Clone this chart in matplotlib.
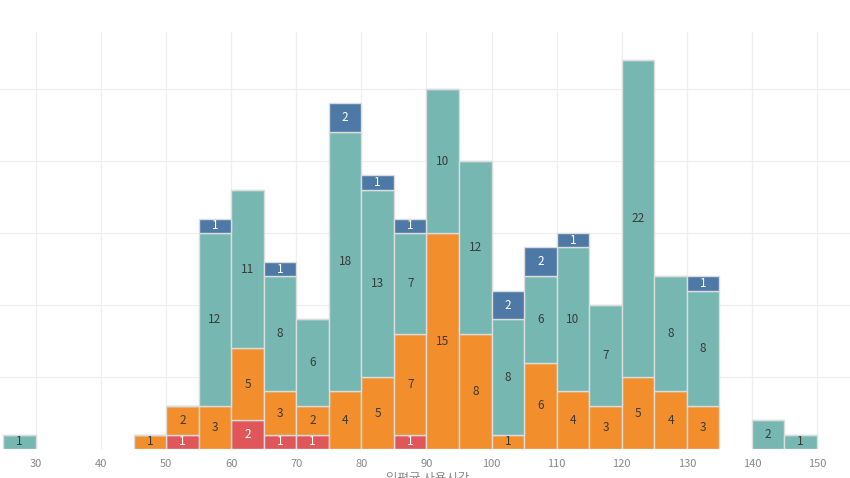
import matplotlib
matplotlib.use("Agg")
import matplotlib.pyplot as plt
import numpy as np

plt.rcParams['font.family'] = ['Noto Sans CJK KR', 'DejaVu Sans']

bin_starts = [25, 45, 50, 55, 60, 65, 70, 75, 80, 85, 90, 95, 100, 105, 110, 115, 120, 125, 130, 140, 145]
red    = [0, 0, 1, 0, 2, 1, 1, 0, 0, 1, 0, 0, 0, 0, 0, 0, 0, 0, 0, 0, 0]
orange = [0, 1, 2, 3, 5, 3, 2, 4, 5, 7, 15, 8, 1, 6, 4, 3, 5, 4, 3, 0, 0]
teal   = [1, 0, 0, 12, 11, 8, 6, 18, 13, 7, 10, 12, 8, 6, 10, 7, 22, 8, 8, 2, 1]
blue   = [0, 0, 0, 1, 0, 1, 0, 2, 1, 1, 0, 0, 2, 2, 1, 0, 0, 0, 1, 0, 0]
bin_width = 5
xticks = [30, 40, 50, 60, 70, 80, 90, 100, 110, 120, 130, 140, 150]
xlabel = "일평균 사용시간"

series = [
    (red, "#E15759", "white"),
    (orange, "#F28E2B", "#3a3a3a"),
    (teal, "#76B7B2", "#3a3a3a"),
    (blue, "#4E79A7", "white"),
]

fig = plt.figure(figsize=(8.5, 4.78), dpi=100)
ax = fig.add_axes([0, 1 - 449/478, 1, (449 - 32)/478])

bottom = np.zeros(len(bin_starts))
lefts = np.array(bin_starts, dtype=float)
for vals, color, tcolor in series:
    v = np.array(vals, dtype=float)
    ax.bar(lefts, v, width=bin_width, bottom=bottom, align='edge', color=color,
           edgecolor='#dcdcdc', linewidth=1.0, zorder=3)
    for x, b, h in zip(lefts, bottom, v):
        if h > 0:
            ax.text(x + bin_width/2, b + h/2, f"{int(h)}", ha='center', va='center',
                    fontsize=8.5, color=tcolor, zorder=4)
    bottom += v

ax.set_xlim(24.47, 155.07)
ax.set_ylim(0, 28.96)
ax.set_xticks(xticks)
ax.set_xticklabels([str(t) for t in xticks])
ax.set_yticks([5, 10, 15, 20, 25])
ax.set_yticklabels([])
ax.tick_params(axis='both', length=0, labelsize=8, labelcolor='#888888', pad=7)
ax.grid(True, color='#efefef', linewidth=0.9, zorder=0)
for s in ax.spines.values():
    s.set_visible(False)

fig.text(428/850, 0.012, xlabel, ha='center', va='top', fontsize=9, color='#888888')

fig.savefig("out.png", dpi=100)
